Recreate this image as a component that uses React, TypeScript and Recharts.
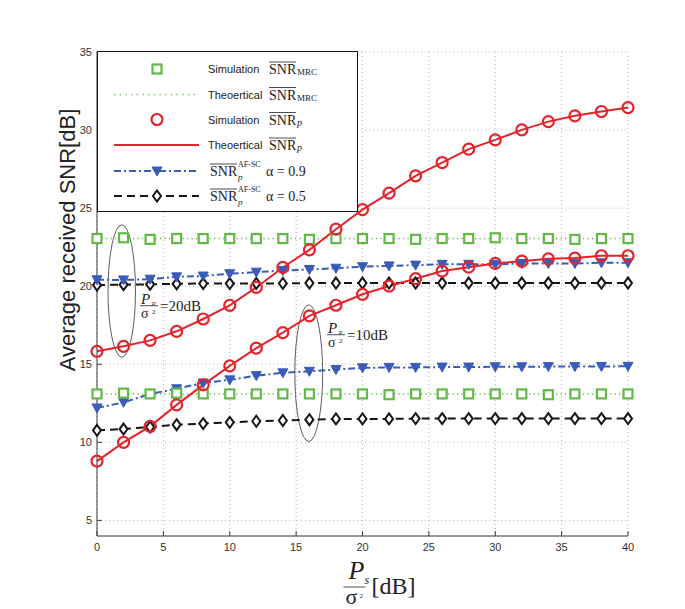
import React from 'react';
import {
  LineChart,
  Line,
  XAxis,
  YAxis,
  CartesianGrid,
  Legend,
  ReferenceArea,
  ReferenceDot,
} from 'recharts';

// transmit SNR Ps/sigma^2 in dB
const snrDb = [0, 2, 4, 6, 8, 10, 12, 14, 16, 18, 20, 22, 24, 26, 28, 30, 32, 34, 36, 38, 40];

// MRC (upper group: Pp/sigma^2 = 20dB, lower group: 10dB)
const mrcTheoryHigh = [23.05, 23.05, 23.05, 23.05, 23.05, 23.05, 23.05, 23.05, 23.05, 23.05, 23.05, 23.05, 23.05, 23.05, 23.05, 23.05, 23.05, 23.05, 23.05, 23.05, 23.05];
const mrcTheoryLow = [13.1, 13.1, 13.1, 13.1, 13.1, 13.1, 13.1, 13.1, 13.1, 13.1, 13.1, 13.1, 13.1, 13.1, 13.1, 13.1, 13.1, 13.1, 13.1, 13.1, 13.1];
const mrcSimHigh = [23.05, 23.1, 23.0, 23.05, 23.05, 23.05, 23.05, 23.05, 23.0, 23.05, 23.05, 23.05, 23.0, 23.05, 23.05, 23.1, 23.05, 23.05, 23.0, 23.05, 23.05];
const mrcSimLow = [13.1, 13.15, 13.1, 13.15, 13.1, 13.1, 13.1, 13.1, 13.1, 13.1, 13.1, 13.05, 13.1, 13.1, 13.1, 13.1, 13.1, 13.05, 13.1, 13.1, 13.1];

// SNR_p (simulation circles sit on the theoretical curve)
const snrPHigh = [15.83, 16.15, 16.53, 17.11, 17.9, 18.77, 19.92, 21.2, 22.33, 23.65, 24.9, 25.96, 27.07, 27.92, 28.78, 29.37, 30.01, 30.54, 30.91, 31.19, 31.44];
const snrPLow = [8.8, 10.0, 11.02, 12.4, 13.68, 14.9, 16.03, 17.03, 18.1, 18.78, 19.48, 20.01, 20.48, 20.97, 21.22, 21.46, 21.6, 21.75, 21.8, 21.95, 21.95];

// AF-SC, alpha = 0.9 and alpha = 0.5
const afsc09High = [20.41, 20.4, 20.45, 20.6, 20.65, 20.8, 20.9, 21.0, 21.07, 21.15, 21.25, 21.3, 21.35, 21.4, 21.4, 21.4, 21.45, 21.45, 21.45, 21.5, 21.5];
const afsc09Low = [12.2, 12.56, 13.1, 13.43, 13.8, 14.0, 14.27, 14.45, 14.55, 14.66, 14.77, 14.8, 14.8, 14.82, 14.82, 14.84, 14.84, 14.85, 14.85, 14.86, 14.87];
const afsc05High = [20.07, 20.1, 20.12, 20.15, 20.17, 20.17, 20.18, 20.18, 20.2, 20.2, 20.2, 20.2, 20.2, 20.2, 20.2, 20.2, 20.2, 20.2, 20.2, 20.2, 20.2];
const afsc05Low = [10.77, 10.85, 10.98, 11.13, 11.2, 11.28, 11.35, 11.4, 11.45, 11.5, 11.5, 11.5, 11.52, 11.52, 11.52, 11.52, 11.52, 11.52, 11.52, 11.52, 11.52];

const xTicks = [0, 5, 10, 15, 20, 25, 30, 35, 40];
const yTicks = [5, 10, 15, 20, 25, 30, 35];

const GREEN = '#62b946';
const RED = '#e5232b';
const BLUE = '#3a5cb9';
const BLACK = '#161616';
const AXIS = '#3a3a3a';
const SANS = '"Liberation Sans", Arial, sans-serif';
const SERIF = '"Liberation Serif", "Times New Roman", serif';

const data = snrDb.map((x, i) => ({
  x,
  mrcHi: mrcTheoryHigh[i],
  mrcLo: mrcTheoryLow[i],
  mrcSimHi: mrcSimHigh[i],
  mrcSimLo: mrcSimLow[i],
  pHi: snrPHigh[i],
  pLo: snrPLow[i],
  a9Hi: afsc09High[i],
  a9Lo: afsc09Low[i],
  a5Hi: afsc05High[i],
  a5Lo: afsc05Low[i],
}));

const square = (cx: number, cy: number, key?: any) => (
  <rect key={key} x={cx - 4.5} y={cy - 4.5} width={9} height={9} fill='#fff' stroke={GREEN} strokeWidth={2.2} />
);
const circle = (cx: number, cy: number, key?: any) => (
  <circle key={key} cx={cx} cy={cy} r={5.5} fill='none' stroke={RED} strokeWidth={2.2} />
);
const triangle = (cx: number, cy: number, key?: any) => (
  <polygon key={key} points={`${cx - 5},${cy - 4} ${cx + 5},${cy - 4} ${cx},${cy + 5}`} fill={BLUE} stroke={BLUE} strokeWidth={1} />
);
const diamond = (cx: number, cy: number, key?: any) => (
  <polygon key={key} points={`${cx},${cy - 5.5} ${cx + 4},${cy} ${cx},${cy + 5.5} ${cx - 4},${cy}`} fill='#fff' stroke={BLACK} strokeWidth={2} />
);

const dotOf = (fn: typeof square) => (p: any) => fn(p.cx, p.cy, p.index);

function Snr({ x, y, sub, italicSub }: { x: number; y: number; sub: string; italicSub?: boolean }) {
  return (
    <g>
      <line x1={x} x2={x + 27} y1={y - 12} y2={y - 12} stroke='#222' strokeWidth={0.8} />
      <text x={x} y={y} fontFamily={SERIF} fontSize={14} fill='#222'>SNR</text>
      <text x={x + 28} y={y + 1} fontFamily={SERIF} fontSize={italicSub ? 10 : 9} fontStyle={italicSub ? 'italic' : 'normal'} fill='#222'>
        {sub}
      </text>
    </g>
  );
}

function SnrAf({ x, y }: { x: number; y: number }) {
  return (
    <g>
      <line x1={x} x2={x + 27} y1={y - 12} y2={y - 12} stroke='#222' strokeWidth={0.8} />
      <text x={x} y={y} fontFamily={SERIF} fontSize={14} fill='#222'>SNR</text>
      <text x={x + 28} y={y - 9} fontFamily={SERIF} fontSize={8} fill='#222'>AF-SC</text>
      <text x={x + 28} y={y + 4} fontFamily={SERIF} fontSize={9} fontStyle='italic' fill='#222'>p</text>
    </g>
  );
}

function LegendBox() {
  const rowY = [17, 42.5, 67.5, 93, 119, 144];
  const sans = { fontFamily: SANS, fontSize: 11, fill: '#222' };
  return (
    <div style={{ width: 261, height: 161, border: `1px solid ${BLACK}`, background: '#fff', boxSizing: 'border-box' }}>
      <svg width={259} height={159} style={{ display: 'block' }}>
        {square(59, rowY[0])}
        <text x={110} y={rowY[0] + 4} {...sans}>Simulation</text>
        <Snr x={171} y={rowY[0] + 5} sub='MRC' />

        <line x1={16} x2={101} y1={rowY[1]} y2={rowY[1]} stroke={GREEN} strokeWidth={1.5} strokeDasharray='1.2 4.5' />
        <text x={110} y={rowY[1] + 4} {...sans}>Theoertical</text>
        <Snr x={171} y={rowY[1] + 5} sub='MRC' />

        {circle(59, rowY[2])}
        <text x={110} y={rowY[2] + 4} {...sans}>Simulation</text>
        <Snr x={171} y={rowY[2] + 5} sub='p' italicSub />

        <line x1={16} x2={101} y1={rowY[3]} y2={rowY[3]} stroke={RED} strokeWidth={2} />
        <text x={110} y={rowY[3] + 4} {...sans}>Theoertical</text>
        <Snr x={171} y={rowY[3] + 5} sub='p' italicSub />

        <line x1={16} x2={101} y1={rowY[4]} y2={rowY[4]} stroke={BLUE} strokeWidth={2} strokeDasharray='7 3 2 3' />
        {triangle(59, rowY[4])}
        <SnrAf x={112} y={rowY[4] + 5} />
        <text x={168} y={rowY[4] + 5} fontFamily={SERIF} fontSize={14} fill='#222'>α = 0.9</text>

        <line x1={16} x2={101} y1={rowY[5]} y2={rowY[5]} stroke={BLACK} strokeWidth={2} strokeDasharray='8 5' />
        {diamond(59, rowY[5])}
        <SnrAf x={112} y={rowY[5] + 5} />
        <text x={168} y={rowY[5] + 5} fontFamily={SERIF} fontSize={14} fill='#222'>α = 0.5</text>
      </svg>
    </div>
  );
}

const ellipseShape = (p: any) => (
  <ellipse
    cx={p.x + p.width / 2}
    cy={p.y + p.height / 2}
    rx={p.width / 2}
    ry={p.height / 2}
    fill='none'
    stroke='#333'
    strokeWidth={0.8}
  />
);

// Pp/sigma^2 = ..dB note, anchored at the left end of the fraction bar
const powerNote = (value: string) => (p: any) => {
  const { cx, cy } = p;
  return (
    <g fontFamily={SERIF} fill='#222'>
      <text x={cx + 1} y={cy - 2} fontSize={15} fontStyle='italic'>P</text>
      <text x={cx + 12} y={cy - 0.5} fontSize={7} fontStyle='italic'>p</text>
      <line x1={cx} x2={cx + 18} y1={cy} y2={cy} stroke='#222' strokeWidth={0.8} />
      <text x={cx + 1} y={cy + 12} fontSize={14}>σ</text>
      <text x={cx + 12} y={cy + 8} fontSize={7}>2</text>
      <text x={cx + 20} y={cy + 5} fontSize={15}>{`=${value}`}</text>
    </g>
  );
};

const xLabel = (p: any) => {
  const { x, width } = p.viewBox;
  const cx = x + width / 2;
  return (
    <g fontFamily={SERIF} fill='#222'>
      <text x={cx - 14} y={579} fontSize={26} fontStyle='italic'>P</text>
      <text x={cx + 2} y={584} fontSize={12} fontStyle='italic'>s</text>
      <line x1={cx - 19} x2={cx + 3} y1={587} y2={587} stroke='#222' strokeWidth={0.8} />
      <text x={cx - 17} y={604} fontSize={22}>σ</text>
      <text x={cx - 3} y={598} fontSize={7}>2</text>
      <text x={cx + 9} y={594} fontSize={24}>[dB]</text>
    </g>
  );
};

const yLabel = () => (
  <text
    x={67}
    y={240}
    transform='rotate(-90 67 240)'
    textAnchor='middle'
    dominantBaseline='central'
    fontFamily={SANS}
    fontSize={22}
    fill='#222'
  >
    Average received SNR[dB]
  </text>
);

const noTick = () => <g />;
const tickStyle = { fontSize: 11, fill: '#333', fontFamily: SANS };

export default function App() {
  return (
    <div style={{ position: 'absolute', left: 0, top: 0, background: '#fff' }}>
      <LineChart width={685} height={609} data={data} margin={{ top: 52, right: 57, bottom: 0, left: 37 }}>
        <CartesianGrid stroke='#b5b5b5' strokeDasharray='1 3' />
        <XAxis
          dataKey='x'
          type='number'
          domain={[0, 40]}
          ticks={xTicks}
          height={73}
          tickSize={-5}
          tickMargin={12}
          tick={tickStyle}
          stroke={AXIS}
          label={xLabel}
        />
        <XAxis
          xAxisId='top'
          orientation='top'
          dataKey='x'
          type='number'
          domain={[0, 40]}
          ticks={xTicks}
          height={0}
          tickSize={-5}
          tick={noTick}
          stroke={AXIS}
        />
        <YAxis
          type='number'
          domain={[4, 35]}
          ticks={yTicks}
          width={60}
          tickSize={-5}
          tickMargin={10}
          tick={tickStyle}
          stroke={AXIS}
          label={yLabel}
        />
        <YAxis
          yAxisId='right'
          orientation='right'
          type='number'
          domain={[4, 35]}
          ticks={yTicks}
          width={0}
          tickSize={-5}
          tick={noTick}
          stroke={AXIS}
        />

        <Line dataKey='mrcHi' stroke={GREEN} strokeWidth={1.5} strokeDasharray='1.2 3.3' dot={false} activeDot={false} isAnimationActive={false} />
        <Line dataKey='mrcLo' stroke={GREEN} strokeWidth={1.5} strokeDasharray='1.2 3.3' dot={false} activeDot={false} isAnimationActive={false} />
        <Line dataKey='a5Hi' stroke={BLACK} strokeWidth={2} strokeDasharray='8 5' dot={dotOf(diamond)} activeDot={false} isAnimationActive={false} />
        <Line dataKey='a5Lo' stroke={BLACK} strokeWidth={2} strokeDasharray='8 5' dot={dotOf(diamond)} activeDot={false} isAnimationActive={false} />
        <Line dataKey='a9Hi' stroke={BLUE} strokeWidth={2} strokeDasharray='7 3 2 3' dot={dotOf(triangle)} activeDot={false} isAnimationActive={false} />
        <Line dataKey='a9Lo' stroke={BLUE} strokeWidth={2} strokeDasharray='7 3 2 3' dot={dotOf(triangle)} activeDot={false} isAnimationActive={false} />
        <Line dataKey='mrcSimHi' stroke='none' dot={dotOf(square)} activeDot={false} isAnimationActive={false} />
        <Line dataKey='mrcSimLo' stroke='none' dot={dotOf(square)} activeDot={false} isAnimationActive={false} />
        <Line dataKey='pHi' stroke={RED} strokeWidth={2} dot={dotOf(circle)} activeDot={false} isAnimationActive={false} />
        <Line dataKey='pLo' stroke={RED} strokeWidth={2} dot={dotOf(circle)} activeDot={false} isAnimationActive={false} />

        <ReferenceArea x1={0.83} x2={2.9} y1={15.45} y2={23.93} shape={ellipseShape} />
        <ReferenceArea x1={14.9} x2={17.0} y1={10.05} y2={18.8} shape={ellipseShape} />
        <ReferenceDot x={3.24} y={18.75} r={0} shape={powerNote('20dB')} />
        <ReferenceDot x={17.32} y={16.89} r={0} shape={powerNote('10dB')} />

        <Legend
          layout='vertical'
          align='center'
          verticalAlign='middle'
          content={LegendBox}
          wrapperStyle={{ left: 97, top: 51, width: 261, height: 161 }}
        />
      </LineChart>
    </div>
  );
}
